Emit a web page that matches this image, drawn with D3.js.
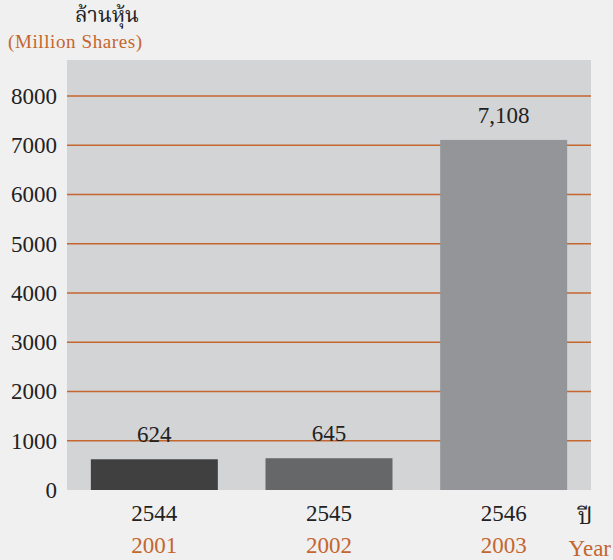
<!DOCTYPE html>
<html><head><meta charset="utf-8">
<script src="https://cdn.jsdelivr.net/npm/d3@7"></script>
<style>
html,body{margin:0;padding:0;background:#f0f0f0;}
svg{display:block;}
</style></head>
<body>
<script>
const categories = ["2544","2545","2546"];
const categoriesEn = ["2001","2002","2003"];
const values = [624, 645, 7108];
const valueLabels = ["624","645","7,108"];
const yTicks = [0,1000,2000,3000,4000,5000,6000,7000,8000];
const barColors = ["#404040","#666769","#939598"];

const W = 613, H = 560;
const orange = "#c4662f";
const SERIF = "'Liberation Serif', 'DejaVu Serif', serif";
const THAI = "'Noto Serif Thai', 'Noto Sans Thai', 'Noto Sans', 'DejaVu Sans', sans-serif";
const svg = d3.select("body").append("svg").attr("width", W).attr("height", H);
svg.append("rect").attr("width", W).attr("height", H).attr("fill", "#f0f0f0");

const x = d3.scaleBand().domain(categories).range([67, 591]).paddingInner(0.273).paddingOuter(0.1365);
const y = d3.scaleLinear().domain([0, 8000]).range([490, 96]);

svg.append("rect").attr("x", 67).attr("y", 60).attr("width", 524).attr("height", 430).attr("fill", "#d3d4d6");

svg.append("g").selectAll("line").data(yTicks.filter(d => d > 0)).join("line")
  .attr("x1", 67).attr("x2", 591)
  .attr("y1", d => y(d)).attr("y2", d => y(d))
  .attr("stroke", orange).attr("stroke-width", 1.3);

const yAxis = d3.axisLeft(y).tickValues(yTicks).tickSize(0).tickPadding(10).tickFormat(d3.format("d"));
const gy = svg.append("g").attr("transform", "translate(67,0)").call(yAxis);
gy.attr("font-family", null).attr("font-size", null);
gy.select(".domain").remove();
gy.selectAll("text").style("font-family", SERIF).style("font-size", "23px").attr("fill", "#222");

svg.append("g").selectAll("rect").data(values).join("rect")
  .attr("x", (d, i) => x(categories[i]))
  .attr("width", x.bandwidth())
  .attr("y", d => y(d))
  .attr("height", d => y(0) - y(d))
  .attr("fill", (d, i) => barColors[i]);

svg.append("g").selectAll("text").data(values).join("text")
  .attr("x", (d, i) => x(categories[i]) + x.bandwidth() / 2)
  .attr("y", d => y(d) - 17)
  .attr("text-anchor", "middle").style("font-family", SERIF).style("font-size", "23px").attr("fill", "#222")
  .text((d, i) => valueLabels[i]);

const gx = svg.append("g");
gx.selectAll("text.th").data(categories).join("text").attr("class", "th")
  .attr("x", d => x(d) + x.bandwidth() / 2).attr("y", 521)
  .attr("text-anchor", "middle").style("font-family", SERIF).style("font-size", "23px").attr("fill", "#222").text(d => d);
gx.selectAll("text.en").data(categoriesEn).join("text").attr("class", "en")
  .attr("x", (d, i) => x(categories[i]) + x.bandwidth() / 2).attr("y", 553)
  .attr("text-anchor", "middle").style("font-family", SERIF).style("font-size", "23px").attr("fill", orange).text(d => d);

svg.append("text").attr("x", 75).attr("y", 22).style("font-family", THAI).style("font-size", "21px").attr("fill", "#222").text("ล้านหุ้น");
svg.append("text").attr("x", 8).attr("y", 48).style("font-family", SERIF).style("font-size", "19px").style("letter-spacing", "0.6px").attr("fill", orange).text("(Million Shares)");
svg.append("text").attr("x", 585).attr("y", 524).attr("text-anchor", "middle").style("font-family", THAI).style("font-size", "23px").attr("fill", "#222").text("ปี");
svg.append("text").attr("x", 611).attr("y", 556).attr("text-anchor", "end").style("font-family", SERIF).style("font-size", "23px").attr("fill", orange).text("Year");
</script>
</body></html>
